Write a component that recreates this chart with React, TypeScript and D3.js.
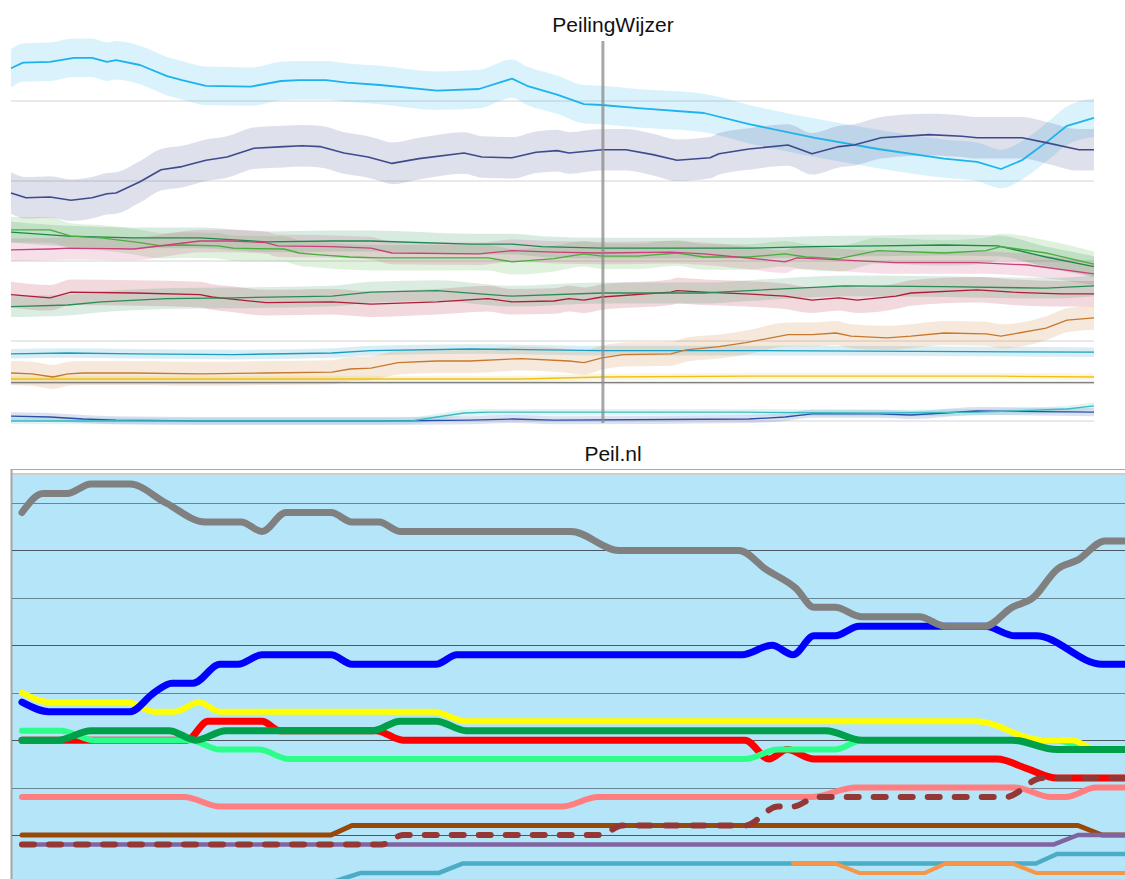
import React from 'react';
import * as d3 from 'd3';

type Pt = [number, number]; // [dag, zetels]

// --- PeilingWijzer (bovenste paneel) ---
const pwLightBlue: Pt[] = [
	[0, 44.1], [4, 44.8], [13, 44.9], [21, 45.4], [27, 45.4], [32, 44.9], [35, 45.1], [43, 44.5],
	[52, 43.1], [57, 42.6], [65, 41.9], [80, 41.8], [90, 42.5], [96, 42.6], [105, 42.6], [112, 42.3],
	[123, 42.0], [142, 41.3], [156, 41.5], [167, 42.8], [172, 41.9], [182, 40.8], [191, 39.6], [197, 39.5],
	[209, 39.1], [231, 38.5], [246, 37.1], [268, 35.4], [289, 34.0], [311, 32.8], [322, 32.4], [330, 31.5],
	[337, 32.6], [345, 34.8], [352, 36.9], [361, 37.9],
];
const pwNavy: Pt[] = [
	[0, 28.5], [5, 27.9], [13, 28.0], [20, 27.6], [27, 27.9], [32, 28.4], [35, 28.5], [43, 29.9],
	[50, 31.4], [57, 31.8], [65, 32.6], [72, 33.0], [81, 34.1], [91, 34.3], [97, 34.4], [103, 34.3],
	[111, 33.5], [119, 33.0], [123, 32.6], [127, 32.2], [136, 32.8], [151, 33.5], [157, 33.0], [167, 32.9],
	[175, 33.6], [182, 33.8], [186, 33.5], [197, 33.9], [205, 33.9], [214, 33.3], [222, 32.6], [233, 32.9],
	[236, 33.4], [246, 34.0], [259, 34.5], [267, 33.4], [276, 34.3], [281, 34.5], [290, 35.4], [306, 35.8],
	[317, 35.6], [322, 35.4], [337, 35.4], [345, 34.8], [356, 33.9], [361, 33.9],
];
const pwDarkGreen: Pt[] = [
	[0, 23.6], [19, 23.1], [41, 22.9], [63, 22.9], [85, 22.4], [107, 22.5], [120, 22.5], [153, 22.1],
	[167, 22.1], [177, 21.8], [197, 21.6], [246, 21.6], [267, 21.8], [289, 21.9], [311, 22.0], [329, 21.9],
	[345, 20.5], [361, 19.3],
];
const pwLightGreen: Pt[] = [
	[0, 23.9], [13, 23.9], [20, 23.1], [30, 22.9], [43, 22.3], [50, 21.9], [57, 22.0], [69, 21.9],
	[74, 21.6], [91, 21.5], [96, 21.0], [102, 20.8], [113, 20.5], [123, 20.4], [159, 20.4], [167, 19.9],
	[181, 20.3], [191, 20.9], [197, 20.6], [209, 20.6], [222, 21.0], [231, 20.5], [246, 20.5], [258, 20.9],
	[265, 20.5], [276, 20.3], [289, 21.3], [311, 21.0], [325, 21.3], [330, 21.8], [345, 21.0], [361, 19.6],
];
const pwPink: Pt[] = [
	[0, 21.4], [13, 21.5], [20, 21.6], [41, 21.5], [52, 22.0], [63, 22.5], [74, 22.5], [85, 22.3],
	[89, 21.9], [107, 21.8], [120, 21.6], [127, 21.0], [156, 20.9], [167, 21.3], [181, 21.1], [197, 21.0],
	[220, 21.1], [231, 20.9], [245, 20.4], [258, 19.9], [262, 20.4], [278, 20.1], [295, 19.8], [322, 19.8],
	[339, 19.5], [361, 18.4],
];
const pwCrimson: Pt[] = [
	[0, 15.8], [13, 15.4], [20, 16.1], [41, 16.0], [63, 15.8], [67, 15.5], [72, 15.3], [85, 14.8],
	[107, 14.9], [120, 14.6], [142, 14.9], [159, 15.3], [167, 14.9], [181, 15.0], [186, 15.3], [191, 15.1],
	[197, 15.5], [220, 16.1], [222, 16.3], [231, 16.1], [245, 15.9], [258, 15.6], [267, 15.1], [276, 15.4],
	[282, 15.1], [295, 15.6], [300, 16.0], [322, 16.4], [334, 16.1], [350, 15.9], [361, 15.9],
];
const pwSeaGreen: Pt[] = [
	[0, 14.3], [19, 14.5], [30, 14.9], [52, 15.3], [74, 15.4], [107, 15.6], [120, 16.1], [142, 16.3],
	[167, 15.6], [197, 16.0], [231, 16.0], [246, 16.3], [278, 16.9], [311, 16.8], [345, 16.6], [361, 16.9],
];
const pwTeal: Pt[] = [
	[0, 8.4], [19, 8.5], [41, 8.4], [74, 8.3], [107, 8.5], [120, 8.8], [153, 9.0], [197, 8.8],
	[246, 8.8], [361, 8.6],
];
const pwOrange: Pt[] = [
	[0, 6.0], [7, 5.9], [14, 5.5], [19, 5.9], [24, 6.0], [41, 6.0], [63, 5.9], [85, 6.0],
	[107, 6.1], [113, 6.5], [120, 6.6], [129, 7.3], [142, 7.5], [153, 7.5], [170, 7.8], [186, 7.5],
	[191, 7.3], [197, 7.9], [204, 8.3], [220, 8.4], [225, 8.9], [236, 9.3], [245, 9.8], [259, 10.8],
	[267, 10.8], [275, 11.0], [280, 10.6], [292, 10.4], [300, 10.6], [311, 11.0], [325, 10.9], [330, 10.6],
	[345, 11.6], [352, 12.6], [361, 12.9],
];
const pwYellow: Pt[] = [
	[0, 5.25], [120, 5.25], [170, 5.25], [197, 5.5], [246, 5.6], [329, 5.6], [361, 5.5],
];
const pwGrey: Pt[] = [[0, 4.8], [197, 4.8], [361, 4.8]];
const pwBlue: Pt[] = [
	[0, 0.6], [13, 0.5], [24, 0.25], [35, 0.1], [63, 0], [123, 0], [153, 0.1], [167, 0.25],
	[181, 0.1], [246, 0.25], [258, 0.5], [267, 0.9], [289, 0.9], [300, 0.75], [322, 1.25], [361, 1.1],
];
const pwAqua: Pt[] = [
	[0, 0], [131, 0], [134, 0.05], [142, 0.5], [151, 1.0], [159, 1.1], [197, 1.1], [246, 1.1],
	[289, 1.0], [322, 1.1], [352, 1.5], [361, 1.9],
];
const pwMarkerDay = 197.3;
const pwGrid = [0, 10, 20, 30, 40];

// --- Peil.nl (onderste paneel) ---
const pnGrey: Pt[] = [
	[0, 39], [7, 41], [15, 41], [23, 42], [36, 42], [48, 40], [61, 38], [73, 38], [80, 37], [88, 39],
	[103, 39], [110, 38], [119, 38], [126, 37], [183, 37], [199, 35], [239, 35], [248, 33], [258, 31],
	[264, 29], [271, 29], [280, 28], [299, 28], [308, 27], [321, 27], [330, 29], [337, 30], [345, 33],
	[352, 34], [361, 36], [368, 36],
];
const pnBlue: Pt[] = [
	[0, 19], [9, 18], [36, 18], [44, 20], [50, 21], [57, 21], [66, 23], [72, 23], [80, 24], [103, 24],
	[110, 23], [138, 23], [145, 24], [240, 24], [250, 25], [257, 24], [264, 26], [271, 26], [279, 27],
	[321, 27], [331, 26], [338, 26], [360, 23], [368, 23],
];
const pnYellow: Pt[] = [
	[0, 20], [9, 19], [35, 19], [44, 18], [51, 18], [59, 19], [66, 18], [137, 18], [148, 17], [318, 17],
	[340, 15], [350, 15], [358, 14], [368, 14],
];
const pnRed: Pt[] = [
	[0, 15], [55, 15], [62, 17], [80, 17], [86, 16], [118, 16], [127, 15], [241, 15], [249, 13], [255, 14],
	[264, 13], [325, 13], [335, 12], [345, 11], [368, 11],
];
const pnDarkGreen: Pt[] = [
	[0, 15], [12, 15], [23, 16], [49, 16], [58, 15], [68, 16], [117, 16], [126, 17], [138, 17], [148, 16],
	[268, 16], [280, 15], [330, 15], [345, 14], [368, 14],
];
const pnSpring: Pt[] = [
	[0, 16], [13, 16], [24, 15], [56, 15], [66, 14], [79, 14], [89, 13], [241, 13], [252, 14], [271, 14],
	[280, 15], [345, 15], [355, 14], [368, 14],
];
const pnSalmon: Pt[] = [
	[0, 9], [54, 9], [66, 8], [180, 8], [192, 9], [263, 9], [278, 10], [331, 10], [343, 9], [348, 9],
	[358, 10], [368, 10],
];
const pnBrown: Pt[] = [[0, 5], [103, 5], [110, 6], [352, 6], [360, 5], [368, 5]];
const pnPurple: Pt[] = [[0, 4], [344, 4], [352, 5], [368, 5]];
const pnMaroon: Pt[] = [
	[0, 4], [120, 4], [127, 5], [193, 5], [200, 6], [241, 6], [252, 8], [257, 8], [265, 9], [328, 9],
	[340, 11], [368, 11],
];
const pnTeal: Pt[] = [[0, 0], [103, 0], [113, 1], [139, 1], [147, 2], [338, 2], [345, 3], [368, 3]];
const pnOrange: Pt[] = [[257, 2], [271, 2], [279, 1], [301, 1], [308, 2], [330, 2], [338, 1], [368, 1]];
const pnGrid = [5, 10, 15, 20, 25, 30, 35, 40];

const FONT = "'Liberation Sans', Arial, Helvetica, sans-serif";

const topSeries = [
	{ data: pwLightBlue, color: '#1db3ec', band: 2.4, width: 1.8 },
	{ data: pwNavy, color: '#3e4a8d', band: 2.6, width: 1.6 },
	{ data: pwDarkGreen, color: '#1a8a4c', band: 1.3, width: 1.3 },
	{ data: pwLightGreen, color: '#4aae3c', band: 1.6, width: 1.3 },
	{ data: pwPink, color: '#c9407a', band: 1.4, width: 1.3 },
	{ data: pwCrimson, color: '#ad1d37', band: 1.6, width: 1.3 },
	{ data: pwSeaGreen, color: '#2b8c55', band: 1.3, width: 1.3 },
	{ data: pwTeal, color: '#1b9cc0', band: 0.6, width: 1.3 },
	{ data: pwOrange, color: '#c8782c', band: 1.5, width: 1.3 },
	{ data: pwYellow, color: '#ecc21b', band: 0.4, width: 1.3 },
	{ data: pwGrey, color: '#808080', band: 0.2, width: 1.2 },
	{ data: pwBlue, color: '#2850a8', band: 0.5, width: 1.3 },
	{ data: pwAqua, color: '#3bbcc4', band: 0.4, width: 1.3 },
];

const botSeries = [
	{ data: pnTeal, color: '#4bacc6', width: 4.5, smooth: false },
	{ data: pnOrange, color: '#f79646', width: 4, smooth: false },
	{ data: pnBrown, color: '#984807', width: 5, smooth: false },
	{ data: pnPurple, color: '#8064a2', width: 4.5, smooth: false },
	{ data: pnSalmon, color: '#ff7f80', width: 6, smooth: true },
	{ data: pnRed, color: '#ff0000', width: 7, smooth: true },
	{ data: pnSpring, color: '#2bff8a', width: 6, smooth: true },
	{ data: pnYellow, color: '#ffff00', width: 6, smooth: true },
	{ data: pnDarkGreen, color: '#00a04b', width: 7, smooth: true },
	{ data: pnMaroon, color: '#953735', width: 6, smooth: true, dash: '12 15' },
	{ data: pnBlue, color: '#0000ff', width: 7, smooth: true },
	{ data: pnGrey, color: '#808080', width: 7, smooth: true },
];

const App: React.FC = () => {
	const xTop = d3.scaleLinear().domain([0, 361]).range([11, 1094]);
	const yTop = d3.scaleLinear().domain([0, 50]).range([421, 21]);
	const xBot = d3.scaleLinear().domain([0, 368]).range([22, 1126]);
	const yBot = d3.scaleLinear().domain([0, 40]).range([882.4, 503]);

	const topLine = d3
		.line<Pt>()
		.x((d) => xTop(d[0]))
		.y((d) => yTop(d[1]));

	const botSmooth = d3
		.line<Pt>()
		.x((d) => xBot(d[0]))
		.y((d) => yBot(d[1]))
		.curve(d3.curveMonotoneX);
	const botLinear = d3
		.line<Pt>()
		.x((d) => xBot(d[0]))
		.y((d) => yBot(d[1]));

	return (
		<svg
			width={1125}
			height={879}
			style={{ position: 'absolute', left: 0, top: 0, background: '#fff' }}>
			{/* PeilingWijzer */}
			<text x={613} y={32} textAnchor="middle" fontSize={21} fontFamily={FONT} fill="#111">
				PeilingWijzer
			</text>
			{pwGrid.map((v) => (
				<line key={v} x1={11} x2={1094} y1={yTop(v)} y2={yTop(v)} stroke="#d4d4d4" strokeWidth={1} />
			))}
			{topSeries.map((s, i) => {
				const area = d3
					.area<Pt>()
					.x((d) => xTop(d[0]))
					.y0((d) => yTop(d[1] - s.band))
					.y1((d) => yTop(d[1] + s.band))
					.curve(d3.curveMonotoneX);
				return <path key={'b' + i} d={area(s.data) ?? ''} fill={s.color} fillOpacity={0.17} />;
			})}
			{topSeries.map((s, i) => (
				<path
					key={'l' + i}
					d={topLine(s.data) ?? ''}
					fill="none"
					stroke={s.color}
					strokeWidth={s.width}
					strokeLinejoin="round"
				/>
			))}
			<line
				x1={xTop(pwMarkerDay)}
				x2={xTop(pwMarkerDay)}
				y1={41}
				y2={423}
				stroke="#8a8a8a"
				strokeWidth={3}
				strokeOpacity={0.75}
			/>

			{/* Peil.nl */}
			<text x={613} y={461} textAnchor="middle" fontSize={21} fontFamily={FONT} fill="#111">
				Peil.nl
			</text>
			<rect x={12} y={474} width={1113} height={405} fill="#b5e5f9" />
			<line x1={11} x2={1125} y1={469.5} y2={469.5} stroke="#a9a9a9" strokeWidth={1} />
			<line x1={12} x2={1125} y1={474} y2={474} stroke="#cdcdcd" strokeWidth={2} />
			<line x1={11.5} x2={11.5} y1={469} y2={879} stroke="#a6a6a6" strokeWidth={2} />
			{pnGrid.map((v) => (
				<line
					key={v}
					x1={12}
					x2={1125}
					y1={Math.round(yBot(v)) + 0.5}
					y2={Math.round(yBot(v)) + 0.5}
					stroke={v % 10 === 0 ? '#6a8696' : '#4b5862'}
					strokeWidth={1}
				/>
			))}
			{botSeries.map((s, i) => (
				<path
					key={'p' + i}
					d={(s.smooth ? botSmooth : botLinear)(s.data) ?? ''}
					fill="none"
					stroke={s.color}
					strokeWidth={s.width}
					strokeLinecap="round"
					strokeLinejoin="round"
					strokeDasharray={s.dash}
				/>
			))}
		</svg>
	);
};

export default App;
